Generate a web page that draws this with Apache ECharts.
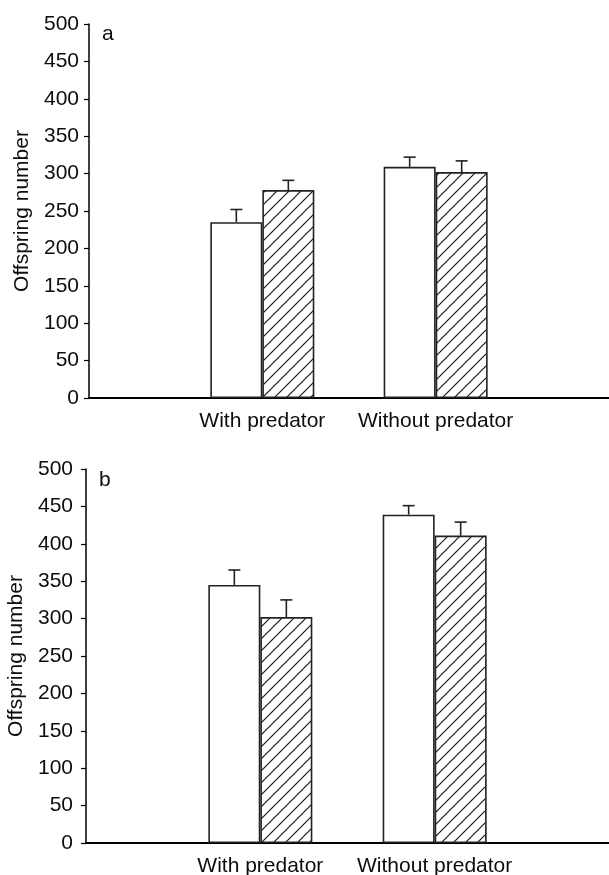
<!DOCTYPE html>
<html>
<head>
<meta charset="utf-8">
<script src="https://cdn.jsdelivr.net/npm/echarts@6/dist/echarts.min.js"></script>
<style>
html,body{margin:0;padding:0;background:#fff;}
#chart{width:609px;height:875px;}
</style>
</head>
<body>
<div id="chart"></div>
<script>
// ---- data ----
const categories = ['With predator', 'Without predator'];
const panelLabels = ['a', 'b'];
const yAxisName = 'Offspring number';
const yMin = 0, yMax = 500, yInterval = 50;

const aOpen = [235, 309];
const aOpenErr = [17, 13];
const aHatched = [278, 302];
const aHatchedErr = [13, 15];

const bOpen = [345, 439];
const bOpenErr = [20, 12];
const bHatched = [302, 411];
const bHatchedErr = [23, 18];

// ---- styling ----
const FONT = 'Liberation Sans, Arial, Helvetica, sans-serif';
const FS = 21;
const BAR_W = 52;
const INK = '#0d0d0d';

function hatchPattern() {
  const s = 12;
  const c = document.createElement('canvas');
  c.width = s; c.height = s;
  const ctx = c.getContext('2d');
  ctx.fillStyle = '#fff';
  ctx.fillRect(0, 0, s, s);
  ctx.strokeStyle = '#111';
  ctx.lineWidth = 1.1;
  ctx.beginPath();
  ctx.moveTo(0, s); ctx.lineTo(s, 0);
  ctx.moveTo(-2, 2); ctx.lineTo(2, -2);
  ctx.moveTo(s - 2, s + 2); ctx.lineTo(s + 2, s - 2);
  ctx.stroke();
  return c;
}
const hatch = { image: hatchPattern(), repeat: 'repeat' };

// padded axis so the two groups sit at 1/3 and 2/3 of the axis line
const axisCats = [''].concat(categories, ['']);
function pad(arr) { return [null].concat(arr, [null]); }
function errData(vals, errs) { return vals.map((v, i) => [i + 1, v, errs[i]]); }

function errSeries(gi, vals, errs, offset) {
  return {
    type: 'custom', xAxisIndex: gi, yAxisIndex: gi, z: 5,
    data: errData(vals, errs),
    encode: { x: 0, y: 1 },
    renderItem: function (params, api) {
      const x = api.value(0), v = api.value(1), e = api.value(2);
      const p0 = api.coord([x, v]);
      const p1 = api.coord([x, v + e]);
      const cx = p0[0] + offset;
      const st = { stroke: '#222', lineWidth: 1.6 };
      return {
        type: 'group',
        children: [
          { type: 'line', shape: { x1: cx, y1: p0[1], x2: cx, y2: p1[1] }, style: st },
          { type: 'line', shape: { x1: cx - 6, y1: p1[1], x2: cx + 6, y2: p1[1] }, style: st }
        ]
      };
    }
  };
}

function barSeries(gi, vals, color) {
  return {
    type: 'bar', xAxisIndex: gi, yAxisIndex: gi,
    data: pad(vals), barWidth: BAR_W, barGap: '0%',
    itemStyle: { color: color, borderColor: '#222', borderWidth: 1.6 },
    silent: true
  };
}

const grids = [
  { left: 89, top: 24, right: 0, height: 374, outerBoundsMode: 'none', containLabel: false },
  { left: 86, top: 469, right: 0, height: 374, outerBoundsMode: 'none', containLabel: false }
];
const labelMargins = [10, 13];
const nameGaps = [56, 59];

const xAxes = grids.map((g, i) => ({
  type: 'category', gridIndex: i, data: axisCats, boundaryGap: false,
  axisLine: { lineStyle: { color: '#000', width: 2 } },
  axisTick: { show: false },
  axisLabel: { interval: 0, color: INK, fontFamily: FONT, fontSize: FS, margin: 13 },
  splitLine: { show: false }
}));
const yAxes = grids.map((g, i) => ({
  type: 'value', gridIndex: i, min: yMin, max: yMax, interval: yInterval,
  name: yAxisName, nameLocation: 'middle', nameGap: nameGaps[i],
  nameTextStyle: { color: INK, fontFamily: FONT, fontSize: FS },
  axisLine: { show: true, lineStyle: { color: '#000', width: 1.5 } },
  axisTick: { show: true, length: 5, lineStyle: { color: '#000', width: 1.2 } },
  axisLabel: { color: INK, fontFamily: FONT, fontSize: FS, margin: labelMargins[i] },
  splitLine: { show: false }
}));

const option = {
  animation: false,
  backgroundColor: '#fff',
  title: [
    { text: panelLabels[0], left: 97, top: 19, textStyle: { color: INK, fontFamily: FONT, fontSize: FS, fontWeight: 'normal' } },
    { text: panelLabels[1], left: 94, top: 465, textStyle: { color: INK, fontFamily: FONT, fontSize: FS, fontWeight: 'normal' } }
  ],
  grid: grids,
  xAxis: xAxes,
  yAxis: yAxes,
  series: [
    barSeries(0, aOpen, '#fff'),
    barSeries(0, aHatched, hatch),
    errSeries(0, aOpen, aOpenErr, -BAR_W / 2),
    errSeries(0, aHatched, aHatchedErr, BAR_W / 2),
    barSeries(1, bOpen, '#fff'),
    barSeries(1, bHatched, hatch),
    errSeries(1, bOpen, bOpenErr, -BAR_W / 2),
    errSeries(1, bHatched, bHatchedErr, BAR_W / 2)
  ]
};

const chart = echarts.init(document.getElementById('chart'), null, { renderer: 'canvas' });
chart.setOption(option);
</script>
</body>
</html>
